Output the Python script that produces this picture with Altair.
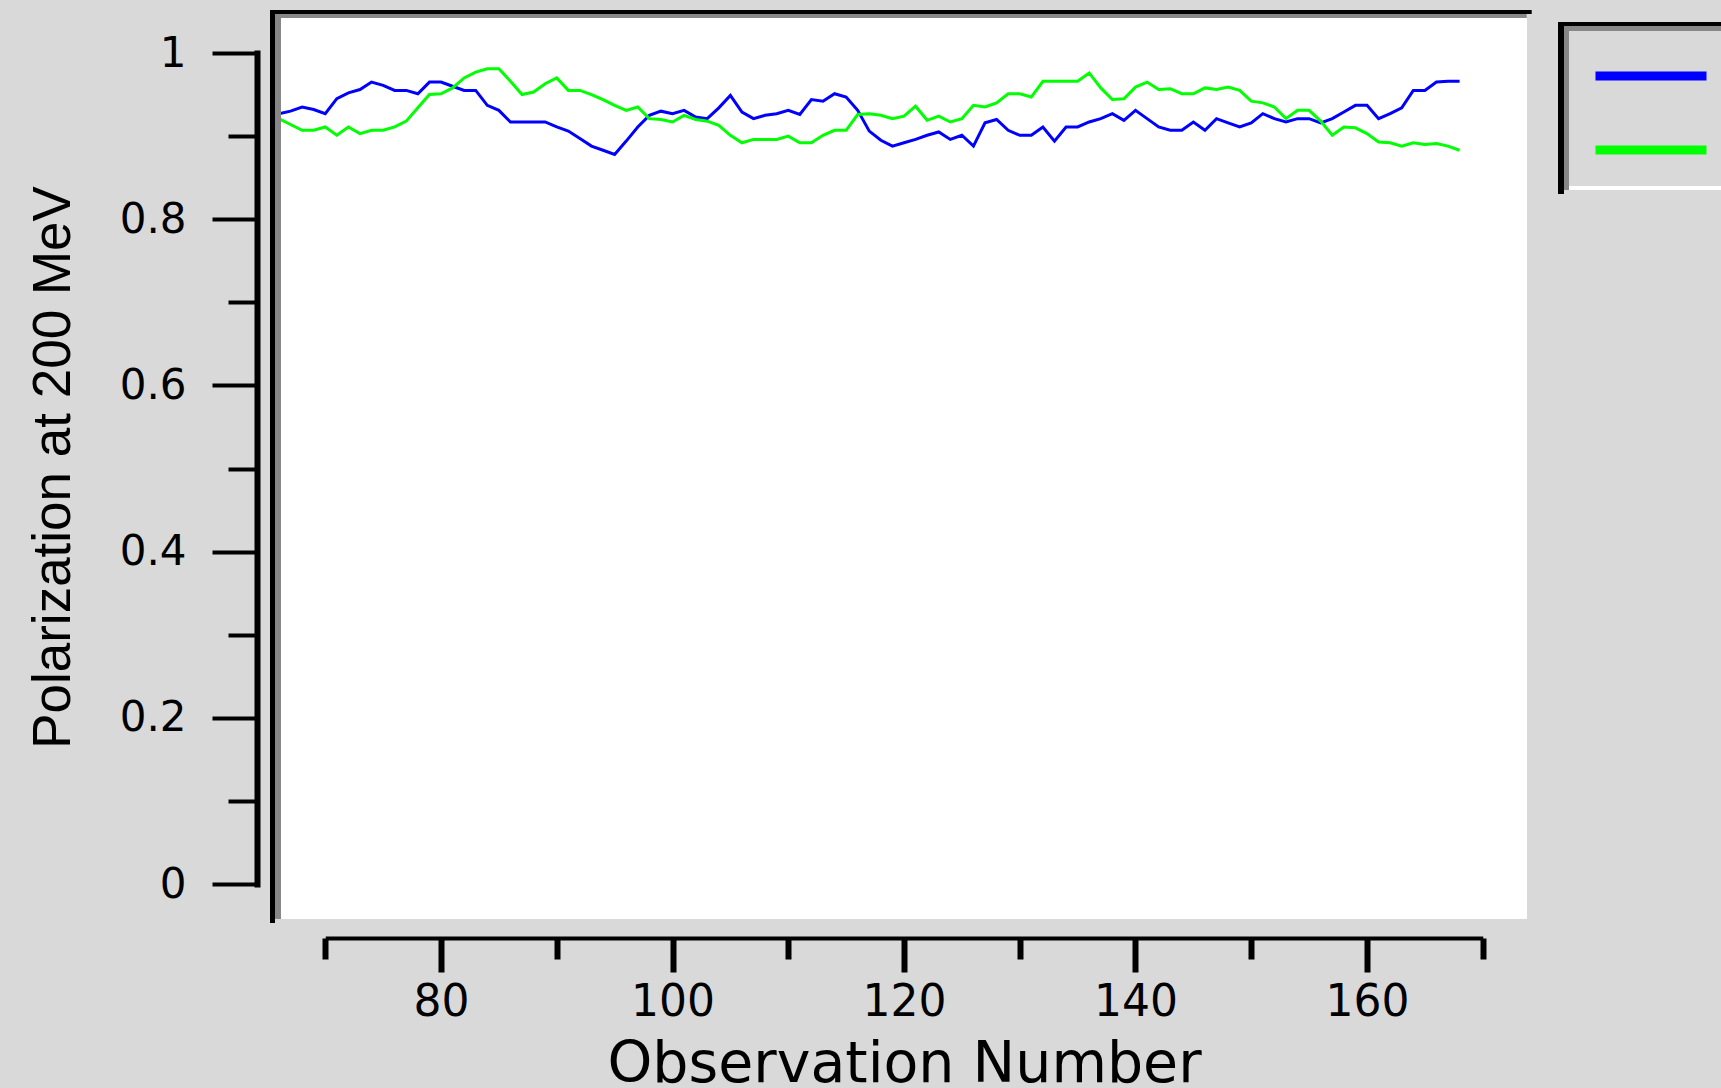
import altair as alt
import pandas as pd

# ---------------- data ----------------
obs_start = 66
series_names = ["Series 1", "Series 2"]
series_colors = ["#0000ff", "#00ff00"]

blue_values = [
    0.927, 0.930, 0.935, 0.932, 0.927, 0.945, 0.952, 0.956, 0.965, 0.961,
    0.955, 0.955, 0.951, 0.965, 0.965, 0.960, 0.955, 0.955, 0.937, 0.931,
    0.917, 0.917, 0.917, 0.917, 0.911, 0.906, 0.897, 0.888, 0.883, 0.878,
    0.894, 0.911, 0.925, 0.930, 0.927, 0.931, 0.923, 0.921, 0.934, 0.949,
    0.929, 0.921, 0.925, 0.927, 0.931, 0.926, 0.944, 0.942, 0.951, 0.947,
    0.931, 0.906, 0.895, 0.888, 0.892, 0.896, 0.901, 0.905, 0.896, 0.901,
    0.888, 0.916, 0.920, 0.907, 0.901, 0.901, 0.911, 0.894, 0.911, 0.911,
    0.917, 0.921, 0.927, 0.919, 0.931, 0.921, 0.911, 0.907, 0.907, 0.917,
    0.907, 0.921, 0.916, 0.911, 0.916, 0.927, 0.921, 0.917, 0.921, 0.921,
    0.916, 0.921, 0.929, 0.937, 0.937, 0.921, 0.927, 0.934, 0.955, 0.955,
    0.965, 0.966, 0.966,
]

green_values = [
    0.921, 0.914, 0.907, 0.907, 0.911, 0.901, 0.911, 0.903, 0.907, 0.907,
    0.911, 0.918, 0.934, 0.950, 0.951, 0.958, 0.970, 0.977, 0.981, 0.981,
    0.966, 0.950, 0.953, 0.963, 0.970, 0.955, 0.955, 0.950, 0.944, 0.937,
    0.931, 0.935, 0.921, 0.920, 0.917, 0.925, 0.920, 0.918, 0.913, 0.901,
    0.892, 0.896, 0.896, 0.896, 0.900, 0.892, 0.892, 0.901, 0.907, 0.907,
    0.926, 0.927, 0.925, 0.921, 0.924, 0.936, 0.919, 0.924, 0.917, 0.921,
    0.937, 0.935, 0.940, 0.951, 0.951, 0.947, 0.966, 0.966, 0.966, 0.966,
    0.976, 0.958, 0.944, 0.945, 0.959, 0.965, 0.956, 0.957, 0.951, 0.951,
    0.958, 0.956, 0.959, 0.955, 0.942, 0.940, 0.935, 0.921, 0.931, 0.931,
    0.918, 0.901, 0.911, 0.910, 0.903, 0.893, 0.892, 0.888, 0.892, 0.890,
    0.891, 0.888, 0.883,
]

x_ticks = [70, 80, 90, 100, 110, 120, 130, 140, 150, 160, 170]
y_ticks = [0, 0.1, 0.2, 0.3, 0.4, 0.5, 0.6, 0.7, 0.8, 0.9, 1]

x_title = "Observation Number"
y_title = "Polarization at 200 MeV"

rows = []
for name, vals in zip(series_names, [blue_values, green_values]):
    for i, v in enumerate(vals):
        rows.append({"obs": obs_start + i, "pol": v, "series": name})
df = pd.DataFrame(rows)

# ---------------- layout ----------------
W, H = 1246, 901
BG = "#d9d9d9"
GREY = "#878787"

x_scale = alt.Scale(domain=[70, 170], range=[44.25, 1201.75], nice=False, zero=False)
y_scale = alt.Scale(domain=[0, 1], range=[866, 35], nice=False, zero=False)

x_axis = alt.Axis(
    values=x_ticks, offset=19, grid=False,
    domainColor="black", domainWidth=4,
    tickColor="black", tickWidth=6,
    tickSize={"condition": {"test": "datum.value % 20 === 0", "value": 34}, "value": 21},
    labelExpr="datum.value % 20 === 0 ? datum.label : ''",
    labelFont="DejaVu Sans", labelFontSize=44, labelColor="black",
    labelBaseline="alphabetic", labelPadding=43, labelFlush=False, labelOverlap=False,
    title=x_title, titleFont="DejaVu Sans", titleFontSize=57, titleFontWeight="normal",
    titleColor="black", titleBaseline="alphabetic", titleY=143,
)

y_axis = alt.Axis(
    values=y_ticks, offset=24, grid=False,
    domainColor="black", domainWidth=6, domainCap="square",
    tickColor="black", tickWidth=4,
    tickSize={"condition": {"test": "round(datum.value * 10) % 2 === 0", "value": 45}, "value": 29},
    labelExpr="round(datum.value * 10) % 2 === 0 ? format(datum.value, '~g') : ''",
    labelFont="DejaVu Sans", labelFontSize=42, labelColor="black",
    labelBaseline="middle", labelPadding=26, labelFlush=False, labelOverlap=False,
    title=y_title, titleFont="Liberation Sans", titleFontSize=53,
    titleFontWeight="normal", titleColor="black", titleAngle=270,
    titleBaseline="alphabetic", titleAlign="center", titleX=-188, titleY=449,
)

legend = alt.Legend(
    orient="none", legendX=1347, legendY=35, title=None,
    symbolType="M-3,0H3", symbolSize=1369, symbolStrokeWidth=9,
    labelExpr="''", labelFontSize=1, padding=0, rowPadding=33,
    direction="vertical",
)

lines = alt.Chart(df).mark_line(strokeWidth=3, interpolate="linear").encode(
    x=alt.X("obs:Q", scale=x_scale, axis=x_axis),
    y=alt.Y("pol:Q", scale=y_scale, axis=y_axis),
    color=alt.Color("series:N", scale=alt.Scale(domain=series_names, range=series_colors), legend=legend),
)


def frame_rule(color, width, x, y, x2=None, y2=None):
    enc = {"x": alt.value(x), "y": alt.value(y)}
    if x2 is not None:
        enc["x2"] = alt.value(x2)
    if y2 is not None:
        enc["y2"] = alt.value(y2)
    return alt.Chart(alt.Data(values=[{}])).mark_rule(
        color=color, strokeWidth=width, strokeCap="butt"
    ).encode(**enc)


frame = [
    # plot frame (top/left bevel)
    frame_rule("black", 5, -8.5, -8, y2=905),
    frame_rule(GREY, 6, -3, -4, y2=901),
    frame_rule("black", 4, -11, -6, x2=1250.7),
    frame_rule(GREY, 4, -6, -2, x2=1245.7),
    # legend box bevel
    frame_rule("white", 4, 1288, 170, x2=1444),
    frame_rule("black", 6, 1280, 4, y2=176),
    frame_rule("black", 4, 1277, 6, x2=1444),
    frame_rule(GREY, 5, 1285.5, 8, y2=172),
    frame_rule(GREY, 5, 1283, 10.5, x2=1444),
]

chart = alt.layer(lines, *frame).properties(
    width=W, height=H,
    autosize=alt.AutoSizeParams(type="none"),
    padding={"left": 281, "top": 18, "right": 194, "bottom": 169},
    background=BG,
).configure_view(fill="white", stroke=None)

chart.save("out.html", embed_options={"renderer": "svg", "actions": False})
